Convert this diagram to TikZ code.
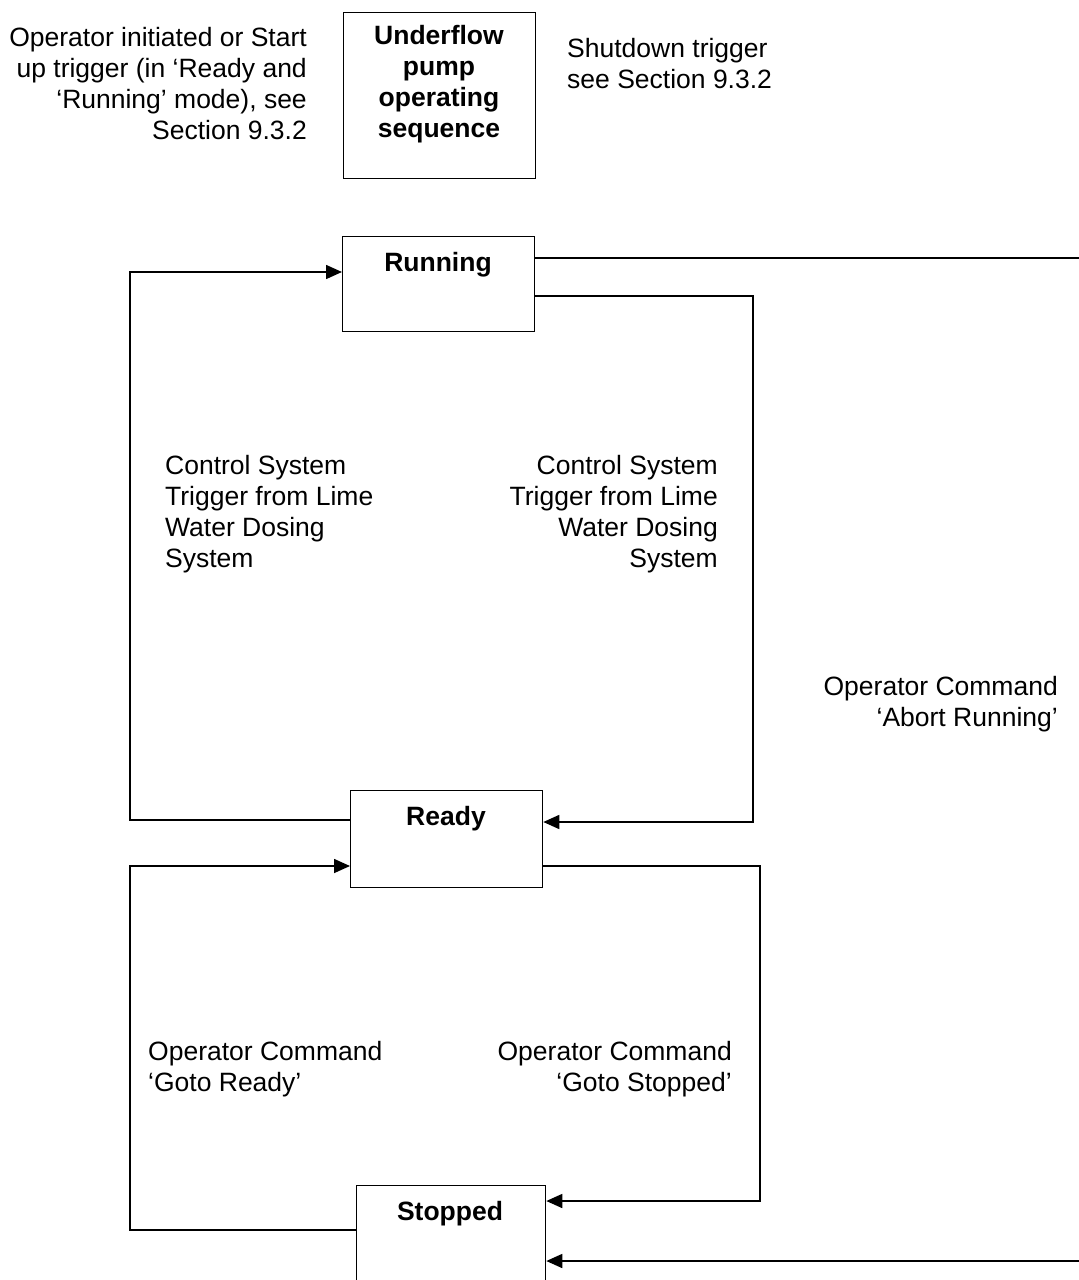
\documentclass[tikz,border=0pt]{standalone}
\usepackage{fontspec}
\setmainfont{Liberation Sans}
\usetikzlibrary{arrows.meta}
\begin{document}
\begin{tikzpicture}[x=1pt,y=-1pt,
  box/.style={draw, line width=1.3pt, inner sep=0pt},
  lbl/.style={font=\fontsize{26.5}{31}\selectfont, inner sep=0pt},
  ttl/.style={font=\bfseries\fontsize{26.5}{31}\selectfont, inner sep=0pt, align=center},
  conn/.style={line width=1.6pt},
  arr/.style={conn, -{Triangle[length=16pt,width=14pt]}}]
\useasboundingbox (0,0) rectangle (1079,1280);

% boxes
\node[box, anchor=north west, minimum width=192pt, minimum height=166pt] (upb) at (343,12) {};
\node[box, anchor=north west, minimum width=192pt, minimum height=95pt] (run) at (342,236) {};
\node[box, anchor=north west, minimum width=192pt, minimum height=97pt] (ready) at (350,790) {};
\node[box, anchor=north west, minimum width=189pt, minimum height=97pt] (stop) at (356,1185) {};

% box titles
\node[ttl] (upt) at (439,84) {Underflow\\pump\\operating\\sequence};
\node[ttl] (runt) at (438,265) {Running};
\node[ttl] (readyt) at (446,819) {Ready};
\node[ttl] (stopt) at (450,1214) {Stopped};

% labels
\node[lbl, align=right, anchor=east] (l1) at (307,84) {Operator initiated or Start\\up trigger (in ‘Ready and\\‘Running’ mode), see\\Section 9.3.2};
\node[lbl, align=left, anchor=west] (l2) at (567,64) {Shutdown trigger\\see Section 9.3.2};
\node[lbl, align=left, anchor=west] (l3) at (165,514) {Control System\\Trigger from Lime\\Water Dosing\\System};
\node[lbl, align=right, anchor=east] (l4) at (718,514) {Control System\\Trigger from Lime\\Water Dosing\\System};
\node[lbl, align=right, anchor=east] (l5) at (1058,704) {Operator Command\\‘Abort Running’};
\node[lbl, align=left, anchor=west] (l6) at (148,1069) {Operator Command\\‘Goto Ready’};
\node[lbl, align=right, anchor=east] (l7) at (732,1069) {Operator Command\\‘Goto Stopped’};

% connectors
\draw[arr] (ready.west |- 0,820) -| (130,272) -- (run.west |- 0,272);
\draw[arr] (run.east |- 0,296) -| (753,822) -- (ready.east |- 0,822);
\draw[arr] (ready.east |- 0,866) -| (760,1201) -- (stop.east |- 0,1201);
\draw[arr] (stop.west |- 0,1230) -| (130,866) -- (ready.west |- 0,866);
\draw[arr] (run.east |- 0,258) -| (1090,1261) -- (stop.east |- 0,1261);
\end{tikzpicture}
\end{document}
